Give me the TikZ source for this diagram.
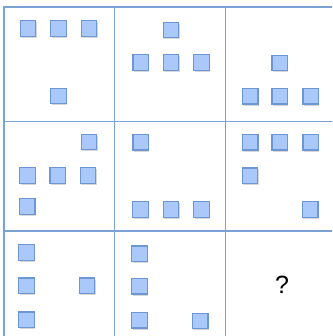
\documentclass[tikz,border=0pt]{standalone}
\usepackage{fontspec}
\setmainfont{Liberation Sans}
\usetikzlibrary{shadows}
\definecolor{gridblue}{RGB}{122,162,212}
\definecolor{sqfill}{RGB}{170,201,250}
\definecolor{sqdraw}{RGB}{108,150,212}
\tikzset{
  gridline/.style={draw=gridblue, line width=1.7pt},
  sq/.style={draw=sqdraw, fill=sqfill, line width=1.2pt, minimum size=15.5pt, inner sep=0pt,
    drop shadow={shadow xshift=0.8pt, shadow yshift=-1.5pt, opacity=0.22, fill=black!70}},
  qmark/.style={font=\fontsize{25}{28}\selectfont, inner sep=0pt}
}
\begin{document}
\begin{tikzpicture}[x=1pt,y=-1pt]
\useasboundingbox (0,0) rectangle (332,336);
\begin{scope}
\clip (0,0) rectangle (332,336);
\draw[gridline] (4,345) -- (4,7) -- (340,7);
\draw[gridline] (114.5,7) -- (114.5,345);
\draw[gridline] (225.5,7) -- (225.5,345);
\draw[gridline] (4,121.5) -- (340,121.5);
\draw[gridline] (4,231) -- (340,231);
\end{scope}
% cell 1,1
\node[sq] (a1) at (28,28.5) {};
\node[sq] (a2) at (58.5,28.5) {};
\node[sq] (a3) at (89,28.5) {};
\node[sq] (a4) at (58.5,96) {};
% cell 1,2
\node[sq] (b1) at (171,30) {};
\node[sq] (b2) at (140.7,62.5) {};
\node[sq] (b3) at (171,62.5) {};
\node[sq] (b4) at (201.5,62.5) {};
% cell 1,3
\node[sq] (c1) at (279.7,63) {};
\node[sq] (c2) at (250.3,96.3) {};
\node[sq] (c3) at (279.7,96.3) {};
\node[sq] (c4) at (310.7,96.3) {};
% cell 2,1
\node[sq] (d1) at (89,142) {};
\node[sq] (d2) at (27.5,175.5) {};
\node[sq] (d3) at (57.7,175.5) {};
\node[sq] (d4) at (88,175.5) {};
\node[sq] (d5) at (27.3,206.5) {};
% cell 2,2
\node[sq] (e1) at (140.7,142.3) {};
\node[sq] (e2) at (140.5,209.5) {};
\node[sq] (e3) at (171,209.5) {};
\node[sq] (e4) at (201.5,209.5) {};
% cell 2,3
\node[sq] (f1) at (250.3,142.3) {};
\node[sq] (f2) at (279.7,142.3) {};
\node[sq] (f3) at (310.7,142.3) {};
\node[sq] (f4) at (250,175.7) {};
\node[sq] (f5) at (310.3,209.5) {};
% cell 3,1
\node[sq] (g1) at (26.5,252.5) {};
\node[sq] (g2) at (26.5,285.8) {};
\node[sq] (g3) at (87,285.8) {};
\node[sq] (g4) at (26.5,319.7) {};
% cell 3,2
\node[sq] (h1) at (139.5,253.7) {};
\node[sq] (h2) at (139.5,286.3) {};
\node[sq] (h3) at (139.5,320.3) {};
\node[sq] (h4) at (200.3,321) {};
% cell 3,3
\node[qmark] (q) at (282,285) {?};
\end{tikzpicture}
\end{document}
